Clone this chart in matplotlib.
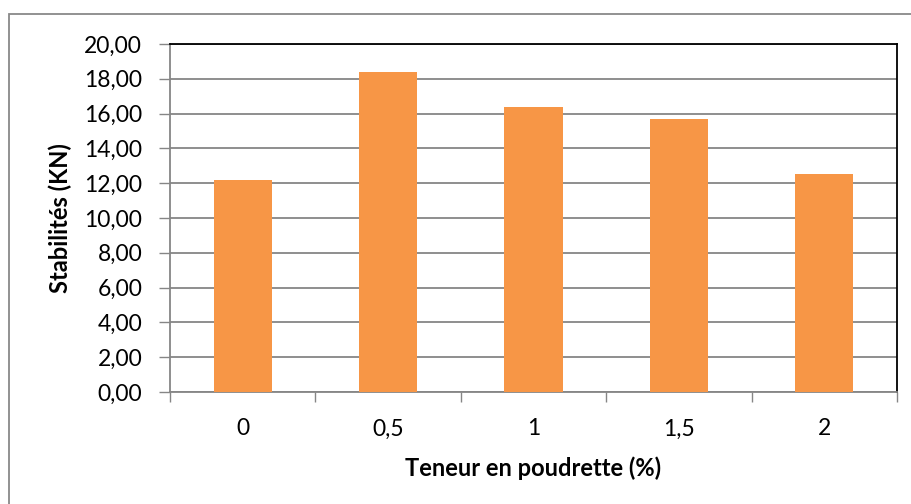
import matplotlib
matplotlib.use("Agg")
import matplotlib.pyplot as plt
from matplotlib.patches import Rectangle
from matplotlib.ticker import FuncFormatter

# données
teneurs = ["0", "0,5", "1", "1,5", "2"]
stabilites = [12.17, 18.39, 16.38, 15.69, 12.52]

plt.rcParams["font.family"] = ["Lato", "DejaVu Sans"]

fig = plt.figure(figsize=(9.12, 5.04), dpi=100)
ax = fig.add_axes([170 / 912, 1 - 392 / 504, (897 - 170) / 912, (392 - 44) / 504])

x = list(range(len(teneurs)))
ax.bar(x, stabilites, width=0.4, color="#F79646", zorder=3)

ax.set_xlim(-0.5, len(teneurs) - 0.5)
ax.set_ylim(0, 20)
ax.set_yticks(range(0, 21, 2))
ax.yaxis.set_major_formatter(FuncFormatter(lambda v, p: ("%.2f" % v).replace(".", ",")))
ax.set_xticks(x)
ax.set_xticklabels(teneurs)
# petits traits entre les catégories
ax.set_xticks([i - 0.5 for i in range(len(teneurs) + 1)], minor=True)
ax.tick_params(axis="x", which="major", length=0, pad=19, labelsize=16.5)
ax.tick_params(axis="x", which="minor", length=7, width=1, color="#868686")
ax.tick_params(axis="y", length=8, width=1, color="#868686", labelsize=16.5, pad=12)

ax.grid(axis="y", color="#868686", linewidth=1.3, zorder=0)
for s in ["left", "bottom"]:
    ax.spines[s].set_color("#868686")
    ax.spines[s].set_linewidth(1.3)
for s in ["top", "right"]:
    ax.spines[s].set_color("black")
    ax.spines[s].set_linewidth(1.3)

ax.set_ylabel("Stabilités (KN)", fontsize=17, fontweight="bold")
ax.set_xlabel("Teneur en poudrette (%)", fontsize=17, fontweight="bold")
ax.yaxis.set_label_coords(-0.135, 0.5)
ax.xaxis.set_label_coords(0.5, -0.185)

# cadre extérieur
fig.patches.append(Rectangle((9 / 912, -0.2), 1.2, 1.2 - 14 / 504, transform=fig.transFigure,
                             fill=False, edgecolor="#898989", linewidth=1.3))

plt.savefig("out.png", dpi=100)
